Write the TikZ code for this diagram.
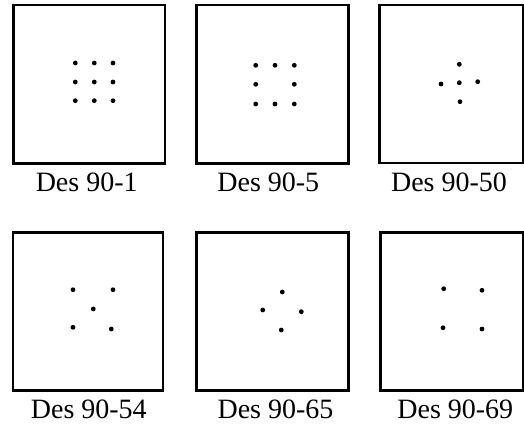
\documentclass[tikz,border=0pt]{standalone}
\usepackage{fontspec}
\setmainfont{Liberation Serif}
\begin{document}
\begin{tikzpicture}[x=1pt,y=-1pt,
  panel/.style={draw=black,line width=2.5pt,fill=white,inner sep=0pt},
  dot/.style={circle,fill=black,inner sep=0pt,minimum size=4.8pt},
  lbl/.style={anchor=base,inner sep=0pt,font=\fontsize{28}{30}\selectfont}]
\useasboundingbox (0,0) rectangle (524,425);
% boxes
\node[panel,minimum width=151.3pt,minimum height=158.5pt] (b1) at (89.35,84.25) {};
\node[panel,minimum width=151.6pt,minimum height=158.5pt] (b2) at (272.5,84.25) {};
\node[panel,minimum width=143.3pt,minimum height=158pt] (b3) at (451.35,84) {};
\node[panel,minimum width=150pt,minimum height=158.4pt] (b4) at (88,311.5) {};
\node[panel,minimum width=151.6pt,minimum height=158.4pt] (b5) at (272.5,311.5) {};
\node[panel,minimum width=142.7pt,minimum height=158.4pt] (b6) at (451.65,311.5) {};
% panel 1: 3x3 grid
\foreach \i/\x in {1/75.3,2/94.3,3/113}{
  \foreach \j/\y in {1/63,2/82,3/100.7}{
    \node[dot] (p1d\i\j) at (\x,\y) {};
  }
}
% panel 2: ring of 8
\node[dot] (p2a) at (255.7,65.3) {};
\node[dot] (p2b) at (275,65.3) {};
\node[dot] (p2c) at (294.3,65.3) {};
\node[dot] (p2d) at (255.7,84.3) {};
\node[dot] (p2e) at (294.3,84.3) {};
\node[dot] (p2f) at (255.7,104) {};
\node[dot] (p2g) at (275,104) {};
\node[dot] (p2h) at (294.3,104) {};
% panel 3: plus
\node[dot] (p3c) at (459.3,82.7) {};
\node[dot] (p3t) at (459.3,64.3) {};
\node[dot] (p3b) at (460,101.7) {};
\node[dot] (p3l) at (441,84) {};
\node[dot] (p3r) at (477.7,81.7) {};
% panel 4: X
\node[dot] (p4a) at (73,289.7) {};
\node[dot] (p4b) at (113,289.7) {};
\node[dot] (p4c) at (93.3,309) {};
\node[dot] (p4d) at (73,327.3) {};
\node[dot] (p4e) at (111.3,329) {};
% panel 5: diamond
\node[dot] (p5t) at (282.3,292) {};
\node[dot] (p5l) at (262.7,310) {};
\node[dot] (p5r) at (301.3,311.7) {};
\node[dot] (p5b) at (281.3,330) {};
% panel 6: square
\node[dot] (p6a) at (443.7,288.7) {};
\node[dot] (p6b) at (482,290.3) {};
\node[dot] (p6c) at (443,327.7) {};
\node[dot] (p6d) at (482,329) {};
% labels
\node[lbl] (l1) at (86.7,191.5) {Des 90-1};
\node[lbl] (l2) at (268.3,191.5) {Des 90-5};
\node[lbl] (l3) at (449,191.5) {Des 90-50};
\node[lbl] (l4) at (88.8,418.5) {Des 90-54};
\node[lbl] (l5) at (275.5,418.5) {Des 90-65};
\node[lbl] (l6) at (455.3,418.5) {Des 90-69};
\end{tikzpicture}
\end{document}
